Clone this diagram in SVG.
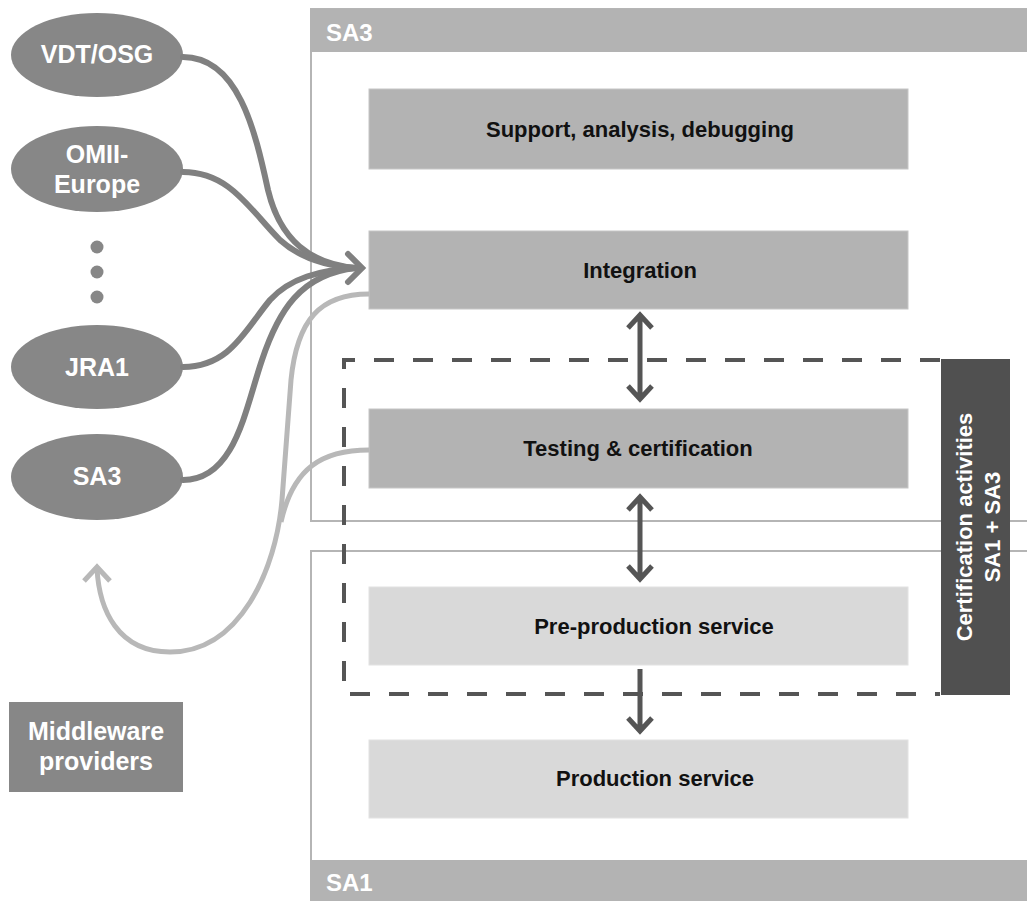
<svg xmlns="http://www.w3.org/2000/svg" width="1027" height="901" viewBox="0 0 1027 901">
  <style>
    .lbl { font-family: "Liberation Sans", Arial, sans-serif; font-weight: bold; }
    .box-text { fill: #111; font-size: 22px; text-anchor: middle; }
    .white { fill: #fff; text-anchor: middle; font-size: 25px; }
    .hdr { fill: #fff; font-size: 24px; }
    .frame { fill: #fff; stroke: #b5b5b5; stroke-width: 2; }
    .band { fill: #b3b3b3; }
    .dark-box { fill: #b3b3b3; stroke: #c6c6c6; stroke-width: 1; }
    .light-box { fill: #d9d9d9; stroke: #e2e2e2; stroke-width: 1; }
    .provider { fill: #878787; }
    .feed { fill: none; stroke: #808080; stroke-width: 6; stroke-linecap: round; }
    .loop { fill: none; stroke: #b8b8b8; stroke-width: 5; }
    .flow { fill: none; stroke: #555; stroke-width: 5; stroke-linejoin: miter; }
  </style>

  <rect width="1027" height="901" fill="#fff"/>

  <!-- SA3 area -->
  <g id="sa3-frame">
    <rect class="frame" x="311" y="9" width="760" height="512"/>
    <rect class="band" x="310" y="9" width="720" height="43"/>
    <text class="lbl hdr" x="326" y="41">SA3</text>
  </g>

  <!-- SA1 area -->
  <g id="sa1-frame">
    <rect class="frame" x="311" y="551" width="760" height="380"/>
    <rect class="band" x="310" y="860" width="720" height="41"/>
    <text class="lbl hdr" x="326" y="891">SA1</text>
  </g>

  <!-- Certification scope -->
  <g id="cert-scope">
    <path d="M940 360 H344 V694 H940" fill="none" stroke="#555" stroke-width="4" stroke-dasharray="20 19"/>
    <rect x="941" y="359" width="69" height="336" fill="#505050"/>
    <text class="lbl" font-size="22" fill="#fff" text-anchor="middle" transform="translate(972 527) rotate(-90)">Certification  activities</text>
    <text class="lbl" font-size="22" fill="#fff" text-anchor="middle" transform="translate(1000 527) rotate(-90)">SA1 + SA3</text>
  </g>

  <!-- Process stages -->
  <g id="support">
    <rect class="dark-box" x="369" y="89" width="539" height="80"/>
    <text class="lbl box-text" x="640" y="137">Support, analysis, debugging</text>
  </g>
  <g id="integration">
    <rect class="dark-box" x="369" y="231" width="539" height="78"/>
    <text class="lbl box-text" x="640" y="278">Integration</text>
  </g>
  <g id="testing">
    <rect class="dark-box" x="369" y="409" width="539" height="79"/>
    <text class="lbl box-text" x="638" y="456">Testing &amp; certification</text>
  </g>
  <g id="preproduction">
    <rect class="light-box" x="369" y="587" width="539" height="78"/>
    <text class="lbl box-text" x="654" y="634">Pre-production service</text>
  </g>
  <g id="production">
    <rect class="light-box" x="369" y="740" width="539" height="78"/>
    <text class="lbl box-text" x="655" y="786">Production service</text>
  </g>

  <!-- Middleware providers -->
  <g id="vdt-osg">
    <ellipse class="provider" cx="97" cy="55" rx="86" ry="42"/>
    <text class="lbl white" x="97" y="63">VDT/OSG</text>
  </g>
  <g id="omii-europe">
    <ellipse class="provider" cx="97" cy="169" rx="86" ry="43"/>
    <text class="lbl white" x="97" y="163">OMII-</text>
    <text class="lbl white" x="97" y="193">Europe</text>
  </g>
  <g id="more-providers" fill="#878787">
    <circle cx="97" cy="247" r="6.5"/>
    <circle cx="97" cy="272" r="6.5"/>
    <circle cx="97" cy="297" r="6.5"/>
  </g>
  <g id="jra1">
    <ellipse class="provider" cx="97" cy="367" rx="86" ry="42"/>
    <text class="lbl white" x="97" y="376">JRA1</text>
  </g>
  <g id="sa3-provider">
    <ellipse class="provider" cx="97" cy="477" rx="86" ry="43"/>
    <text class="lbl white" x="97" y="485">SA3</text>
  </g>
  <g id="middleware-providers">
    <rect x="9" y="702" width="174" height="90" fill="#878787"/>
    <text class="lbl white" x="96" y="740">Middleware</text>
    <text class="lbl white" x="96" y="770">providers</text>
  </g>

  <!-- Connectors -->
  <g id="connectors">
    <!-- feedback from integration and testing back to providers -->
    <path class="loop" d="M369 294 C320 294 297 320 291 380 L282 500 C276 570 240 652 170 652 C118 652 99 610 97 568"/>
    <path class="loop" d="M369 450 C322 450 293 468 281 522"/>
    <path class="loop" d="M84 581 L97 567 L110 581"/>

    <!-- providers feeding integration -->
    <path class="feed" d="M183 57 C238 57 255 130 268 190 C280 240 310 264 356 268"/>
    <path class="feed" d="M183 172 C230 172 250 210 280 240 C300 258 325 266 356 268"/>
    <path class="feed" d="M183 367 C230 367 245 330 270 300 C290 278 320 270 356 268"/>
    <path class="feed" d="M183 480 C235 480 245 410 262 360 C278 312 300 274 356 268"/>
    <path class="feed" d="M348 254 L362 268 L348 282" stroke-linecap="butt"/>

    <!-- stage transitions -->
    <path class="flow" d="M640 316 V398 M628 328 L640 315 L652 328 M628 386 L640 399 L652 386"/>
    <path class="flow" d="M640 498 V578 M628 510 L640 497 L652 510 M628 566 L640 579 L652 566"/>
    <path class="flow" d="M640 669 V730 M628 718 L640 731 L652 718"/>
  </g>
</svg>
